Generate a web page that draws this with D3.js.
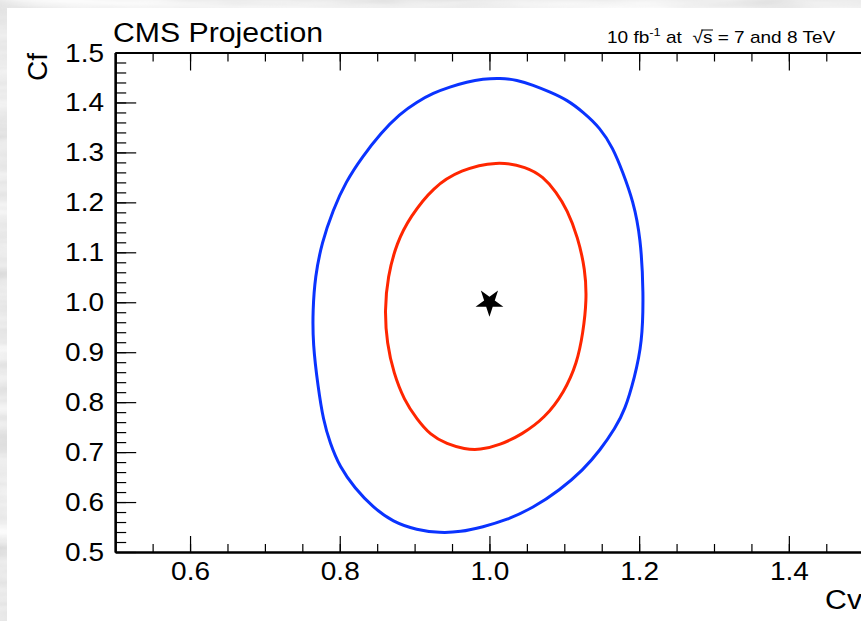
<!DOCTYPE html>
<html>
<head>
<meta charset="utf-8">
<title>CMS Projection - Cv vs Cf</title>
<script src="https://cdn.jsdelivr.net/npm/d3@7"></script>
<style>
  html, body { margin: 0; padding: 0; background: #d0d0d0; }
  svg { display: block; }
  text { font-family: "Liberation Sans", Arial, Helvetica, sans-serif; fill: #000; }
</style>
</head>
<body>
<script>
// Data: 68% (red) and 95% (blue) contours in the (Cv, Cf) plane
var blueContour = [
  [1.014,1.449],[1.037,1.445],[1.058,1.435],[1.081,1.421],[1.104,1.405],[1.125,1.381],
  [1.148,1.349],[1.165,1.309],[1.178,1.261],[1.192,1.203],[1.202,1.130],[1.206,1.019],
  [1.204,0.918],[1.194,0.850],[1.181,0.784],[1.168,0.748],[1.148,0.704],[1.125,0.664],
  [1.094,0.624],[1.058,0.588],[1.023,0.564],[0.991,0.550],[0.961,0.540],[0.934,0.538],
  [0.903,0.544],[0.871,0.560],[0.844,0.590],[0.820,0.628],[0.800,0.670],[0.787,0.718],
  [0.778,0.764],[0.771,0.830],[0.764,0.918],[0.764,0.984],[0.767,1.051],[0.776,1.119],
  [0.791,1.185],[0.808,1.241],[0.830,1.291],[0.855,1.339],[0.880,1.377],[0.903,1.401],
  [0.925,1.419],[0.947,1.431],[0.970,1.441],[0.991,1.447]
];
var redContour = [
  [1.010,1.283],[1.050,1.271],[1.072,1.251],[1.089,1.221],[1.104,1.185],[1.118,1.131],
  [1.128,1.065],[1.130,1.005],[1.125,0.938],[1.117,0.878],[1.100,0.820],[1.074,0.768],
  [1.043,0.735],[1.014,0.714],[0.987,0.704],[0.967,0.706],[0.943,0.716],[0.921,0.734],
  [0.903,0.766],[0.886,0.804],[0.872,0.858],[0.863,0.918],[0.860,0.984],[0.864,1.051],
  [0.876,1.119],[0.894,1.171],[0.925,1.231],[0.961,1.265]
];
// Standard Model expectation
var smPoint = [1.0, 1.0];

// Axis ticks
var xMajor = [0.6, 0.8, 1.0, 1.2, 1.4];
var xMinor = d3.range(0.55, 1.5, 0.05);
var yMajor = [0.5, 0.6, 0.7, 0.8, 0.9, 1.0, 1.1, 1.2, 1.3, 1.4, 1.5];
var yMinor = d3.range(0.52, 1.5, 0.02);

var W = 861, H = 621;
var stretch = "scale(1.12,1)";

var svg = d3.select("body").append("svg")
    .attr("width", W)
    .attr("height", H);

// Gray marble-ish background
var defs = svg.append("defs");
var f = defs.append("filter").attr("id", "marble")
    .attr("x", 0).attr("y", 0).attr("width", "100%").attr("height", "100%");
f.append("feTurbulence").attr("type", "fractalNoise")
    .attr("baseFrequency", "0.004 0.035").attr("numOctaves", 4).attr("seed", 7);
f.append("feColorMatrix").attr("type", "matrix")
    .attr("values", "0.33 0.33 0.33 0 0  0.33 0.33 0.33 0 0  0.33 0.33 0.33 0 0  0 0 0 0 1");
var ct = f.append("feComponentTransfer");
["feFuncR", "feFuncG", "feFuncB"].forEach(function(n) {
  ct.append(n).attr("type", "linear").attr("slope", 0.9).attr("intercept", 0.38);
});
svg.append("rect").attr("width", W).attr("height", H).attr("filter", "url(#marble)");

// White pad
svg.append("rect")
    .attr("x", 7).attr("y", 8)
    .attr("width", W - 7).attr("height", H - 8)
    .attr("fill", "#fff");

// Scales
var x = d3.scaleLinear().domain([0.5, 1.5]).range([115.2, 863.7]);
var y = d3.scaleLinear().domain([0.5, 1.5]).range([552, 52.5]);

// Minor ticks first, then major ticks with labels
svg.append("g").attr("class", "axis")
    .attr("transform", "translate(0,552)")
    .call(d3.axisBottom(x).tickValues(xMinor).tickSize(-8).tickSizeOuter(0).tickFormat(""));
svg.append("g").attr("class", "axis")
    .attr("transform", "translate(0,52.5)")
    .call(d3.axisTop(x).tickValues(xMinor).tickSize(-9).tickSizeOuter(0).tickFormat(""));
svg.append("g").attr("class", "axis")
    .attr("transform", "translate(115.2,0)")
    .call(d3.axisLeft(y).tickValues(yMinor).tickSize(-11).tickSizeOuter(0).tickFormat(""));

var xAxis = svg.append("g").attr("class", "axis")
    .attr("transform", "translate(0,552)")
    .call(d3.axisBottom(x).tickValues(xMajor).tickSize(-16).tickSizeOuter(0)
      .tickPadding(10).tickFormat(function(d) { return d.toFixed(1); }));
svg.append("g").attr("class", "axis")
    .attr("transform", "translate(0,52.5)")
    .call(d3.axisTop(x).tickValues(xMajor).tickSize(-18).tickSizeOuter(0).tickFormat(""));
var yAxis = svg.append("g").attr("class", "axis")
    .attr("transform", "translate(115.2,0)")
    .call(d3.axisLeft(y).tickValues(yMajor).tickSize(-21).tickSizeOuter(0)
      .tickPadding(10).tickFormat(function(d) { return d.toFixed(1); }));

svg.selectAll(".axis .tick line").attr("stroke", "#000").attr("stroke-width", 1.2);
svg.selectAll(".axis path.domain").attr("stroke", "#000").attr("stroke-width", 2.2);
svg.selectAll(".axis text")
    .attr("font-size", 25)
    .attr("font-family", "Liberation Sans, Arial, sans-serif")
    .attr("fill", "#000")
    .attr("transform", stretch);
yAxis.selectAll("text").attr("dy", "0.34em");

// Contours
var line = d3.line()
    .x(function(d) { return x(d[0]); })
    .y(function(d) { return y(d[1]); })
    .curve(d3.curveBasisClosed);

svg.append("path").datum(blueContour)
    .attr("d", line).attr("fill", "none")
    .attr("stroke", "#0a33ff").attr("stroke-width", 3);
svg.append("path").datum(redContour)
    .attr("d", line).attr("fill", "none")
    .attr("stroke", "#ff2600").attr("stroke-width", 3);

// SM star (drawn point-down like the original)
svg.append("path")
    .attr("d", d3.symbol().type(d3.symbolStar).size(240))
    .attr("transform", "translate(" + x(smPoint[0]) + "," + y(smPoint[1]) + ") rotate(180)")
    .attr("fill", "#000");

// Titles
svg.append("text")
    .attr("transform", "translate(113,42) " + stretch)
    .attr("font-size", 27)
    .text("CMS Projection");

svg.append("text")
    .attr("transform", "translate(862,609) " + stretch)
    .attr("text-anchor", "end")
    .attr("font-size", 27)
    .text("Cv");

svg.append("text")
    .attr("transform", "translate(47,53) rotate(-90)")
    .attr("text-anchor", "end")
    .attr("font-size", 28)
    .text("Cf");

// Luminosity / energy label
var lumi = svg.append("g").attr("transform", "translate(607,43) " + stretch);
var lt = lumi.append("text").attr("font-size", 17);
lt.append("tspan").text("10 fb");
lt.append("tspan").attr("font-size", 11.5).attr("dy", -7).text("-1");
lt.append("tspan").attr("dy", 7).text("\u00A0at\u00A0\u00A0\u221A");
var sSpan = lt.append("tspan").text("s");
lt.append("tspan").text("\u00A0= 7 and 8 TeV");
var s0 = sSpan.node().getStartPositionOfChar(0).x;
var s1 = sSpan.node().getEndPositionOfChar(0).x;
lumi.append("line")
    .attr("x1", s0 - 1.5).attr("x2", s1 + 0.5)
    .attr("y1", -13).attr("y2", -13)
    .attr("stroke", "#000").attr("stroke-width", 1);
</script>
</body>
</html>
